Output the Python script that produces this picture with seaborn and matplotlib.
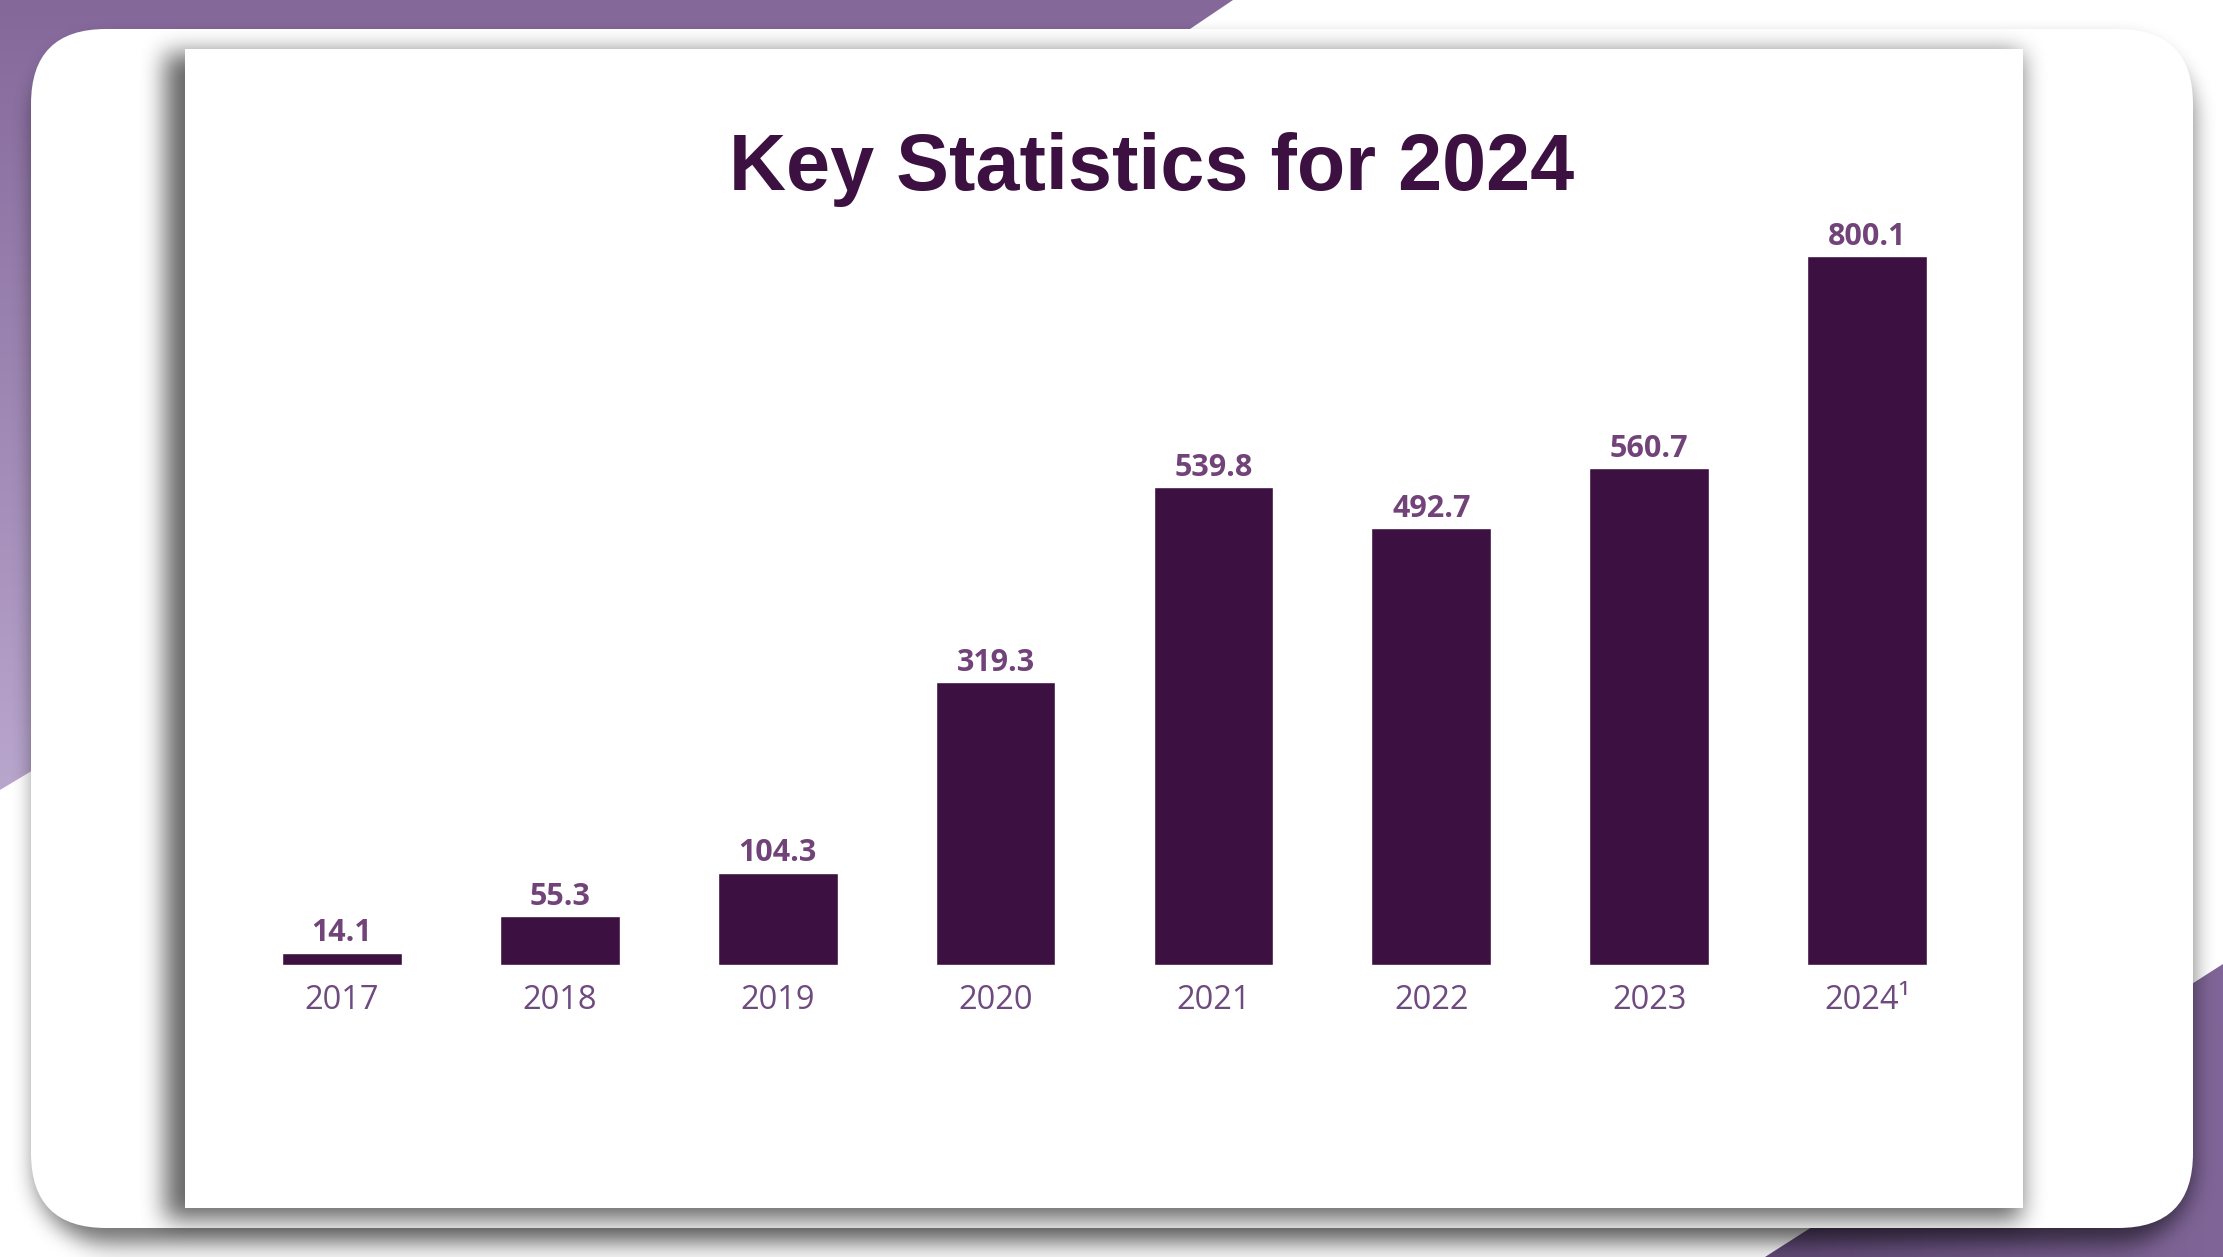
import numpy as np
import pandas as pd
import matplotlib
matplotlib.use("Agg")
import matplotlib.pyplot as plt
from matplotlib.patches import Polygon, FancyBboxPatch, Rectangle
import seaborn as sns

# ---------------- data ----------------
years = ["2017", "2018", "2019", "2020", "2021", "2022", "2023", "2024¹"]
values = [14.1, 55.3, 104.3, 319.3, 539.8, 492.7, 560.7, 800.1]
title = "Key Statistics for 2024"

# ---------------- style ----------------
BAR = "#3C1040"
VAL = "#714379"
TICK = "#6E4A7E"
W, H = 2223, 1257

sns.set_style("white")
plt.rcParams["font.family"] = ["Open Sans", "DejaVu Sans"]

fig = plt.figure(figsize=(W / 100, H / 100), dpi=100)
fig.patch.set_facecolor("white")

# ---------------- decorative background ----------------
bg = fig.add_axes([0, 0, 1, 1], zorder=0)
bg.set_xlim(0, W)
bg.set_ylim(H, 0)
bg.axis("off")

Xc = np.arange(W) + 0.5
Yc = np.arange(H) + 0.5


def rrect_mask(x0, y0, x1, y1, r):
    cx = np.clip(Xc[None, :], x0 + r, x1 - r)
    cy = np.clip(Yc[:, None], y0 + r, y1 - r)
    inside_box = (Xc[None, :] >= x0) & (Xc[None, :] <= x1) & (Yc[:, None] >= y0) & (Yc[:, None] <= y1)
    if r <= 0:
        return inside_box.astype(np.float32)
    d = np.sqrt((Xc[None, :] - cx) ** 2 + (Yc[:, None] - cy) ** 2)
    return ((d <= r) & inside_box).astype(np.float32)


def box_blur(a, r, passes=3):
    for _ in range(passes):
        p = np.pad(a, ((r + 1, r), (0, 0)), mode="edge")
        c = np.cumsum(p, axis=0)
        a = (c[2 * r + 1:] - c[:-(2 * r + 1)]) / (2 * r + 1)
        p = np.pad(a, ((0, 0), (r + 1, r)), mode="edge")
        c = np.cumsum(p, axis=1)
        a = (c[:, 2 * r + 1:] - c[:, :-(2 * r + 1)]) / (2 * r + 1)
    return a


def shadow_image(mask, r, strength):
    a = box_blur(mask, r) * strength
    img = np.zeros((H, W, 4), dtype=np.float32)
    img[..., 3] = np.clip(a, 0, 1)
    return img


# top-left purple region with vertical gradient
grad = np.linspace(0, 1, 256)[:, None]
c_top = np.array([0x84, 0x68, 0x9A]) / 255
c_bot = np.array([0xB9, 0xA6, 0xCD]) / 255
gimg = (c_top[None, None, :] * (1 - grad[..., None]) + c_bot[None, None, :] * grad[..., None])
gimg = np.repeat(gimg, 2, axis=1)
poly_tl = Polygon([(0, 0), (1233, 0), (570, 447), (0, 790)], closed=True,
                  facecolor="none", edgecolor="none")
bg.add_patch(poly_tl)
im1 = bg.imshow(gimg, extent=(0, 1233, 790, 0), aspect="auto", zorder=1)
im1.set_clip_path(poly_tl)

# bottom-right purple region with horizontal gradient
g2 = np.linspace(0, 1, 256)[None, :]
c_l = np.array([0x63, 0x4C, 0x7A]) / 255
c_r = np.array([0x80, 0x66, 0x98]) / 255
g2img = c_l[None, None, :] * (1 - g2[..., None]) + c_r[None, None, :] * g2[..., None]
g2img = np.repeat(g2img, 2, axis=0)
poly_br = Polygon([(1765, H), (W, 964), (W, H)], closed=True, facecolor="none", edgecolor="none")
bg.add_patch(poly_br)
im2 = bg.imshow(g2img, extent=(1765, W, H, 964), aspect="auto", zorder=1)
im2.set_clip_path(poly_br)

# card shadow
card = (31, 29, 2193, 1228)
card_r = 75
m = rrect_mask(card[0] + 4, card[1] + 14, card[2], card[3] + 16, card_r)
bg.imshow(shadow_image(m, 10, 0.55), extent=(0, W, H, 0), zorder=2, interpolation="nearest")

# card
bg.add_patch(FancyBboxPatch((card[0], card[1]), card[2] - card[0], card[3] - card[1],
                            boxstyle=f"round,pad=0,rounding_size={card_r}",
                            facecolor="white", edgecolor="none", zorder=3))

# inner panel shadow
panel = (185, 49, 2023, 1208)
m2 = rrect_mask(panel[0] - 20, panel[1] + 4, panel[2] - 2, panel[3] + 12, 0)
bg.imshow(shadow_image(m2, 11, 0.6), extent=(0, W, H, 0), zorder=4, interpolation="nearest")

# inner panel
bg.add_patch(Rectangle((panel[0], panel[1]), panel[2] - panel[0], panel[3] - panel[1],
                       facecolor="white", edgecolor="none", zorder=5))

# ---------------- chart ----------------
df = pd.DataFrame({"year": years, "value": values})
ax = fig.add_axes([233 / W, (H - 965) / H, 1743 / W, 797.4 / H], zorder=2)
ax.patch.set_alpha(0)
sns.barplot(data=df, x="year", y="value", color=BAR, saturation=1, width=0.55, ax=ax)
ax.set_xlim(-0.5, len(years) - 0.5)
ax.set_ylim(0, 900)

ax.bar_label(ax.containers[0], labels=[f"{v:.1f}" for v in values], padding=3,
             fontsize=22, fontweight="bold", color=VAL, family=["Open Sans", "DejaVu Sans"])

ax.set_xlabel("")
ax.set_ylabel("")
ax.set_yticks([])
ax.tick_params(axis="x", length=0, pad=14, labelsize=23.5, labelcolor=TICK)
for t in ax.get_xticklabels():
    t.set_fontfamily(["Open Sans", "DejaVu Sans"])
for s in ax.spines.values():
    s.set_visible(False)

# ---------------- title ----------------
fig.text(1152 / W, (H - 190) / H, title, ha="center", va="baseline",
         fontsize=57, fontweight="bold", color=BAR,
         family=["Liberation Sans", "DejaVu Sans"], zorder=10)

fig.savefig("out.png", dpi=100)
